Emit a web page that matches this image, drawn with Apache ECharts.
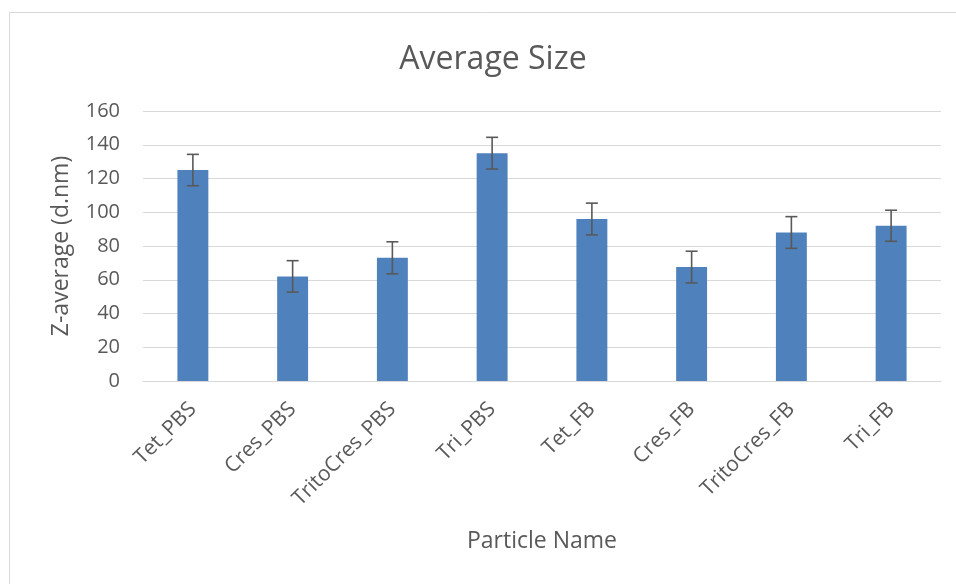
<!DOCTYPE html>
<html>
<head>
<meta charset="utf-8">
<script src="https://cdn.jsdelivr.net/npm/echarts@6/dist/echarts.min.js"></script>
<style>
html,body{margin:0;padding:0;background:#fff;}
#chart{width:956px;height:584px;}
</style>
</head>
<body>
<div id="chart"></div>
<script>
const categories = ['Tet_PBS','Cres_PBS','TritoCres_PBS','Tri_PBS','Tet_FB','Cres_FB','TritoCres_FB','Tri_FB'];
const values = [125, 62, 73, 135, 96, 67.5, 88, 92];
const errors = [9.3, 9.3, 9.5, 9.4, 9.4, 9.4, 9.4, 9.2];
const yTicks = [0, 20, 40, 60, 80, 100, 120, 140, 160];

const errData = categories.map((c, i) => [i, values[i] - errors[i], values[i] + errors[i]]);
const FONT = 'Open Sans';
const TXT = '#595959';

const chart = echarts.init(document.getElementById('chart'));
chart.setOption({
  animation: false,
  backgroundColor: '#ffffff',
  textStyle: { fontFamily: FONT, color: TXT },
  title: {
    text: 'Average Size',
    left: 488, top: 39, textAlign: 'center',
    textStyle: { fontFamily: FONT, fontSize: 32, fontWeight: 'normal', color: TXT }
  },
  graphic: [{
    type: 'rect', shape: { x: 9.5, y: 12.5, width: 1200, height: 1200 },
    style: { fill: 'none', stroke: '#D9D9D9', lineWidth: 1 }, z: -1, silent: true
  }],
  grid: { left: 143, right: 15, top: 111, bottom: 203, containLabel: false },
  xAxis: {
    type: 'category', data: categories,
    name: 'Particle Name', nameLocation: 'middle', nameGap: 149,
    nameTextStyle: { fontFamily: FONT, fontSize: 23, color: TXT },
    axisLine: { show: true, lineStyle: { color: '#D9D9D9', width: 1 } },
    axisTick: { show: false },
    axisLabel: { rotate: 45, fontFamily: FONT, fontSize: 21, color: TXT, margin: 25, interval: 0 }
  },
  yAxis: {
    type: 'value', min: yTicks[0], max: yTicks[yTicks.length - 1], interval: 20,
    name: 'Z-average (d.nm)', nameLocation: 'middle', nameGap: 70,
    nameTextStyle: { fontFamily: FONT, fontSize: 23, color: TXT },
    axisLine: { show: false }, axisTick: { show: false },
    axisLabel: { fontFamily: FONT, fontSize: 20, color: TXT, margin: 23 },
    splitLine: { lineStyle: { color: '#D9D9D9', width: 1 } }
  },
  series: [
    {
      type: 'bar', data: values, barWidth: '31%',
      itemStyle: { color: '#4F81BD' }
    },
    {
      type: 'custom', data: errData, z: 5,
      renderItem: function (params, api) {
        const x = api.value(0);
        const lo = api.coord([x, api.value(1)]);
        const hi = api.coord([x, api.value(2)]);
        const hw = 6;
        const st = { stroke: '#595959', lineWidth: 1.6 };
        return {
          type: 'group',
          children: [
            { type: 'line', shape: { x1: lo[0], y1: lo[1], x2: hi[0], y2: hi[1] }, style: st },
            { type: 'line', shape: { x1: lo[0] - hw, y1: lo[1], x2: lo[0] + hw, y2: lo[1] }, style: st },
            { type: 'line', shape: { x1: hi[0] - hw, y1: hi[1], x2: hi[0] + hw, y2: hi[1] }, style: st }
          ]
        };
      }
    }
  ]
});
</script>
</body>
</html>
